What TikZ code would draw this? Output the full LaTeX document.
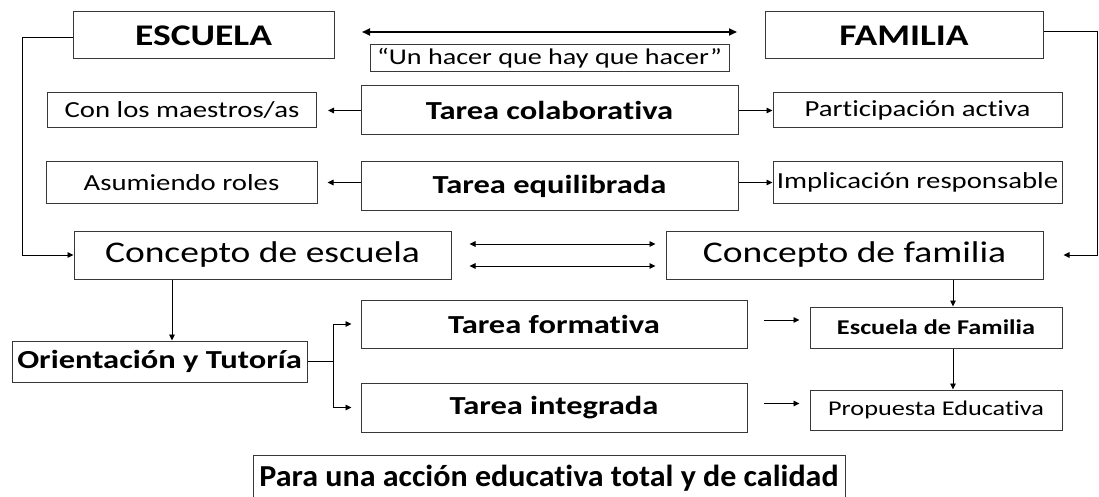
\documentclass[tikz,border=0pt]{standalone}
\usepackage{fontspec}
\setmainfont{Carlito}[FakeStretch=1.25, Ligatures=CommonOff]
\newfontfamily\finalfont{Carlito}[FakeStretch=1.05, Ligatures=CommonOff]
\usetikzlibrary{arrows.meta}
\newcommand{\fsz}[1]{\fontsize{#1}{#1}\selectfont}
\tikzset{
  box/.style={draw=black!78, line width=1pt, inner sep=0pt},
  conn/.style={line width=0.9pt, -{Triangle[length=6pt,width=5.5pt]}},
  plain/.style={line width=0.9pt},
}
\begin{document}
\begin{tikzpicture}[x=1pt,y=-1pt]
\clip (0,0) rectangle (1099,497);
\fill[white] (0,0) rectangle (1099,497);
% top
\node[box, minimum width=261, minimum height=47, font={\fsz{30}\bfseries}] (escuela) at (203.5,35.5) {ESCUELA};
\node[box, minimum width=278, minimum height=47, font={\fsz{30}\bfseries}] (familia) at (904,35.5) {FAMILIA};
\node[box, minimum width=359, minimum height=27, font={\fsz{22.5}}] (quote) at (549.5,58.5) {“Un hacer que hay que hacer”};
% row colaborativa
\node[box, minimum width=377, minimum height=49, font={\fsz{26}\bfseries}] (colab) at (549.5,110.5) {Tarea colaborativa};
\node[box, minimum width=269, minimum height=35, font={\fsz{23}}] (maestros) at (182,110.5) {Con los maestros/as};
\node[box, minimum width=289, minimum height=35, font={\fsz{23}}] (particip) at (917.5,110.5) {Participación activa};
% row equilibrada
\node[box, minimum width=377, minimum height=48, font={\fsz{26}\bfseries}] (equil) at (549.5,186) {Tarea equilibrada};
\node[box, minimum width=271, minimum height=41, font={\fsz{23}}] (roles) at (181.5,182.5) {Asumiendo roles};
\node[box, minimum width=289, minimum height=41, font={\fsz{23}}] (implic) at (917.5,182.5) {Implicación responsable};
% conceptos
\node[box, minimum width=377, minimum height=48, font={\fsz{30}}] (cesc) at (262.5,255) {Concepto de escuela};
\node[box, minimum width=377, minimum height=48, font={\fsz{30}}] (cfam) at (854.5,255) {Concepto de familia};
% lower
\node[box, minimum width=295, minimum height=41, font={\fsz{26}\bfseries}] (orient) at (159.5,361.5) {Orientación y Tutoría};
\node[box, minimum width=386, minimum height=48, font={\fsz{26}\bfseries}] (tform) at (554,324) {Tarea formativa};
\node[box, minimum width=386, minimum height=49, font={\fsz{26}\bfseries}] (tinteg) at (554,407.5) {Tarea integrada};
\node[box, minimum width=252, minimum height=41, font={\fsz{21}\bfseries}] (efam) at (936,327.5) {Escuela de Familia};
\node[box, minimum width=252, minimum height=40, font={\fsz{21}}] (prop) at (936,410) {Propuesta Educativa};
\node[box, minimum width=592, minimum height=46, font={\finalfont\fsz{30.5}\bfseries}] (final) at (549,478) {Para una acción educativa total y de calidad};
% coordinates
\coordinate (tl) at (362,32);
\coordinate (tr) at (737,32);
\coordinate (lcorner) at (22,37);
\coordinate (rcorner) at (1097,31);
\coordinate (branch) at (333,361.5);
% connectors
\draw[line width=1.8pt, {Triangle[length=8pt,width=7pt]}-{Triangle[length=8pt,width=7pt]}] (tl) -- (tr);
\draw[conn, shorten >=11pt] (colab.west) -- (maestros.east);
\draw[conn] (colab.east) -- (particip.west);
\draw[conn, shorten >=10pt] (equil.west |- roles.east) -- (roles.east);
\draw[conn] (equil.east |- implic.west) -- (implic.west);
\draw[conn] (escuela.west |- lcorner) -- (lcorner) |- (cesc.west);
\draw[conn, shorten >=20pt] (familia.east |- rcorner) -- (rcorner) |- (cfam.east);
\draw[plain, {Triangle[length=6pt,width=5.5pt]}-{Triangle[length=6pt,width=5.5pt]}, shorten <=18pt, shorten >=10pt] ([yshift=-11pt]cesc.east) -- ([yshift=-11pt]cesc.east -| cfam.west);
\draw[plain, {Triangle[length=6pt,width=5.5pt]}-{Triangle[length=6pt,width=5.5pt]}, shorten <=18pt, shorten >=10pt] ([yshift=11pt]cesc.east) -- ([yshift=11pt]cesc.east -| cfam.west);
\draw[conn] (cesc.south -| 172,0) -- (orient.north -| 172,0);
\draw[conn] (cfam.south -| 953,0) -- (efam.north -| 953,0);
\draw[conn] (efam.south -| 953,0) -- (prop.north -| 953,0);
\draw[plain] (orient.east) -- (branch);
\draw[conn, shorten >=9pt] (branch) |- (tform.west);
\draw[conn, shorten >=9pt] (branch) |- (tinteg.west);
\draw[conn, shorten <=16pt, shorten >=10pt] ([yshift=4pt]tform.east) -- ([yshift=4pt]tform.east -| efam.west);
\draw[conn, shorten <=16pt, shorten >=10pt] ([yshift=4pt]tinteg.east) -- ([yshift=4pt]tinteg.east -| prop.west);
\end{tikzpicture}
\end{document}
